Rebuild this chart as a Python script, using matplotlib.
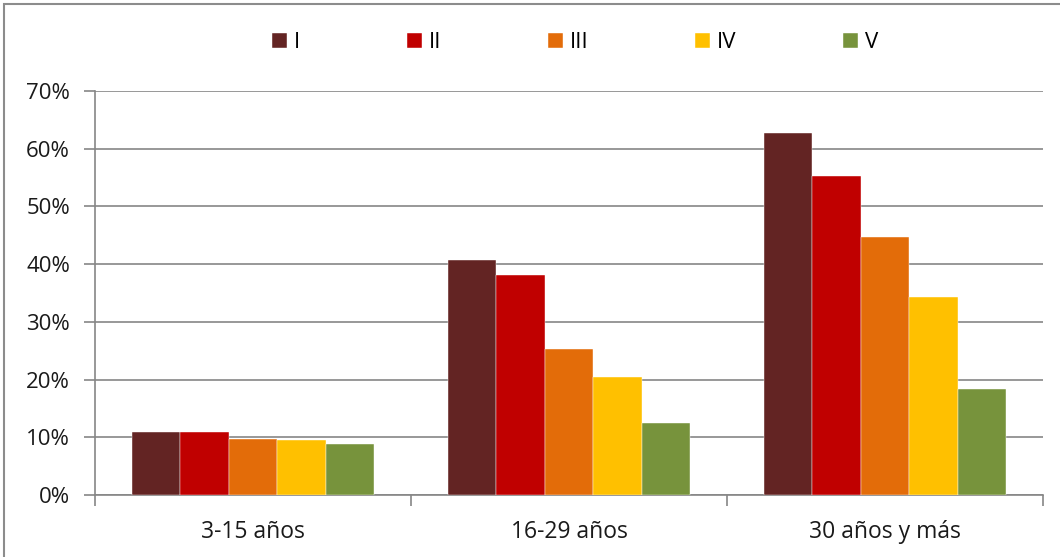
import matplotlib
matplotlib.use("Agg")
import matplotlib.pyplot as plt
import numpy as np
from matplotlib.patches import Rectangle
from matplotlib.ticker import FuncFormatter

# Data
categories = ["3-15 años", "16-29 años", "30 años y más"]
series_names = ["I", "II", "III", "IV", "V"]
serie_i = [10.9, 40.7, 62.7]
serie_ii = [11.0, 38.1, 55.2]
serie_iii = [9.7, 25.3, 44.7]
serie_iv = [9.6, 20.5, 34.3]
serie_v = [8.8, 12.5, 18.4]
colors = ["#632423", "#C00000", "#E36C09", "#FFC000", "#77933C"]

plt.rcParams["font.family"] = ["Open Sans", "DejaVu Sans"]

fig = plt.figure(figsize=(10.6, 5.57), dpi=100)
ax = fig.add_axes([95 / 1060, 1 - 495 / 557, (1043 - 95) / 1060, (495 - 91) / 557])

all_series = [serie_i, serie_ii, serie_iii, serie_iv, serie_v]
x = np.arange(len(categories))
group_w = 0.768
bar_w = group_w / len(all_series)
for i, (name, vals) in enumerate(zip(series_names, all_series)):
    offs = -group_w / 2 + bar_w * (i + 0.5)
    ax.bar(x + offs, vals, width=bar_w, color=colors[i], label=name, zorder=3,
           edgecolor="white", linewidth=0.3)

ax.set_ylim(0, 70)
ax.set_xlim(-0.5, len(categories) - 0.5)
ax.set_yticks(range(0, 71, 10))
ax.yaxis.set_major_formatter(FuncFormatter(lambda v, p: f"{int(v)}%"))
ax.yaxis.grid(True, color="#868686", linewidth=1.2, zorder=0)

ax.set_xticks(x)
ax.set_xticklabels(categories)
ax.set_xticks(np.arange(-0.5, len(categories)), minor=True)
ax.tick_params(axis="x", which="major", length=0, pad=18, labelsize=16.5, colors="#1a1a1a")
ax.tick_params(axis="x", which="minor", length=8, width=1.2, color="#868686")
ax.tick_params(axis="y", length=8, width=1.2, color="#868686", pad=10, labelsize=16,
               labelcolor="#1a1a1a")

for side in ["top", "right"]:
    ax.spines[side].set_visible(False)
for side in ["left", "bottom"]:
    ax.spines[side].set_color("#868686")
    ax.spines[side].set_linewidth(1.2)

leg = fig.legend(loc="center", bbox_to_anchor=(575 / 1060, 1 - 43 / 557), ncol=5,
                 frameon=False, fontsize=16, handlelength=0.68, handleheight=0.68,
                 handletextpad=0.3, columnspacing=4.8)

# Chart frame (cropped on the right and bottom in the reference)
fig.patches.append(Rectangle((4 / 1060, -0.1), 1.2, 1 - 4 / 557 + 0.1,
                             transform=fig.transFigure, fill=False,
                             edgecolor="#8c8c8c", linewidth=1.5))

fig.savefig("out.png", dpi=100)
